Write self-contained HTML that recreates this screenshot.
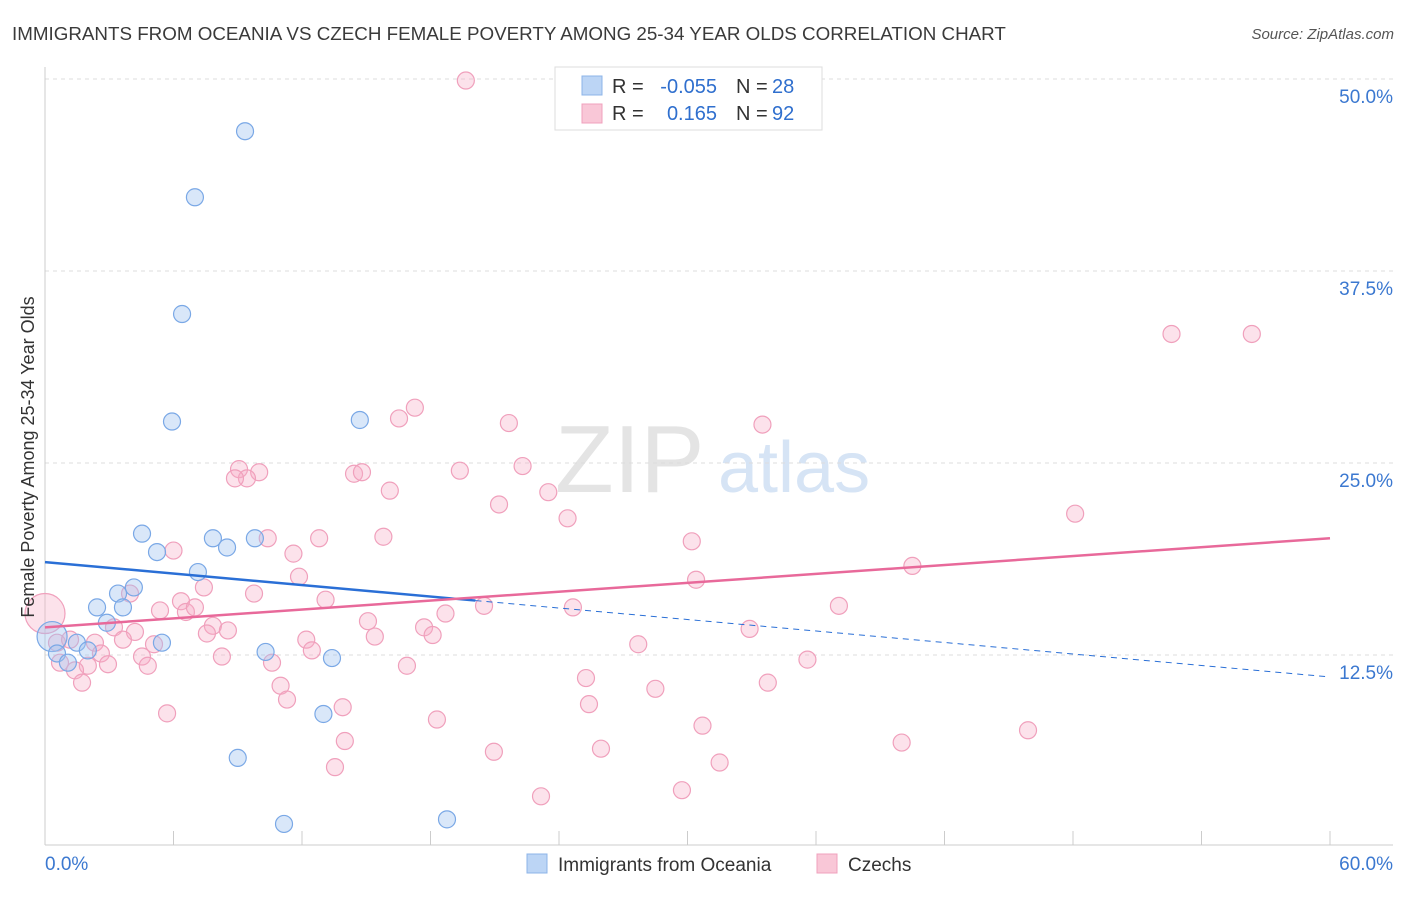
<!DOCTYPE html>
<html><head><meta charset="utf-8"><style>
body{margin:0;background:#fff;font-family:"Liberation Sans",sans-serif}
svg text{font-family:"Liberation Sans",sans-serif}
</style></head><body>
<svg id="chart" width="1406" height="892" viewBox="0 0 1406 892" xmlns="http://www.w3.org/2000/svg">
<text x="12" y="40" font-size="18.8" fill="#3a3a3a">IMMIGRANTS FROM OCEANIA VS CZECH FEMALE POVERTY AMONG 25-34 YEAR OLDS CORRELATION CHART</text>
<text x="1394" y="39" font-size="15" fill="#555" text-anchor="end" font-style="italic">Source: ZipAtlas.com</text>
<text x="555" y="492" font-size="96" fill="#e4e4e4" font-family="Liberation Serif">ZIP</text>
<text x="718" y="492" font-size="72" fill="#d6e4f5">atlas</text>
<g id="grid"></g>
<g id="axes"></g>
<g id="points"></g>
<g id="trends"></g>
<text transform="translate(34,457) rotate(-90)" font-size="18" fill="#333" text-anchor="middle">Female Poverty Among 25-34 Year Olds</text>
<g>
<rect x="555" y="67" width="267" height="63" fill="#fff" stroke="#ddd"/>
<rect x="582" y="76" width="20" height="19" fill="#bcd5f5" stroke="#8db4e8"/>
<rect x="582" y="104" width="20" height="19" fill="#f9c7d7" stroke="#f0a0bc"/>
<text x="612" y="93" font-size="20" fill="#333">R =</text>
<text x="717" y="93" font-size="20" fill="#2f6fce" text-anchor="end">-0.055</text>
<text x="736" y="93" font-size="20" fill="#333">N =</text>
<text x="772" y="93" font-size="20" fill="#2f6fce">28</text>
<text x="612" y="120" font-size="20" fill="#333">R =</text>
<text x="717" y="120" font-size="20" fill="#2f6fce" text-anchor="end">0.165</text>
<text x="736" y="120" font-size="20" fill="#333">N =</text>
<text x="772" y="120" font-size="20" fill="#2f6fce">92</text>
</g>
<g>
<rect x="527" y="854" width="20" height="19" fill="#bcd5f5" stroke="#8db4e8"/>
<text x="558" y="871" font-size="19" fill="#333">Immigrants from Oceania</text>
<rect x="817" y="854" width="20" height="19" fill="#f9c7d7" stroke="#f0a0bc"/>
<text x="848" y="871" font-size="19" fill="#333">Czechs</text>
</g>
</svg>
<script>
const blueX=[9.34,7.0,6.4,5.93,14.7,4.53,5.23,7.84,8.5,9.8,7.14,4.15,3.41,2.43,3.64,2.89,5.46,1.49,0.33,0.56,2.0,1.07,10.3,13.4,13.0,9.0,11.16,18.77];
const blueY=[46.6,42.3,34.7,27.7,27.8,20.4,19.2,20.1,19.5,20.1,17.9,16.9,16.5,15.6,15.6,14.6,13.3,13.3,13.7,12.6,12.8,12.0,12.7,12.3,8.66,5.8,1.5,1.8];
const pinkX=[19.65,52.6,56.35,17.27,16.53,21.66,33.5,9.06,10.0,9.43,8.87,14.43,14.8,19.37,22.3,16.1,23.5,21.2,24.4,48.1,10.4,12.8,15.8,30.2,6.0,11.6,40.5,11.86,30.4,7.42,9.76,3.97,6.35,13.1,20.5,24.65,37.07,5.37,6.58,7.0,18.7,15.08,17.7,7.84,3.22,4.2,8.54,7.56,32.9,15.4,18.1,12.2,3.64,2.33,5.09,27.7,12.46,0,2.61,4.53,8.26,0.7,10.6,4.8,2.94,2.0,1.4,16.9,35.6,25.26,1.73,11.0,28.5,33.75,11.3,25.4,13.9,5.7,18.3,30.7,45.9,14.0,25.96,40.0,20.96,31.5,13.54,29.74,23.16,0.56,1.17];
const pinkY=[49.9,33.4,33.4,28.6,27.9,27.6,27.5,24.6,24.4,24.0,24.0,24.3,24.4,24.5,24.8,23.2,23.1,22.3,21.4,21.7,20.1,20.1,20.2,19.9,19.3,19.1,18.3,17.6,17.4,16.9,16.5,16.5,16.0,16.1,15.7,15.6,15.7,15.4,15.3,15.6,15.2,14.7,14.3,14.4,14.3,14.0,14.1,13.9,14.2,13.7,13.8,13.5,13.5,13.3,13.2,13.2,12.8,15.2,12.6,12.4,12.4,12.0,12.0,11.8,11.9,11.8,11.5,11.8,12.2,11.0,10.7,10.5,10.3,10.7,9.6,9.3,9.1,8.7,8.3,7.9,7.6,6.9,6.4,6.8,6.2,5.5,5.2,3.7,3.3,13.3,13.5];
const yTicks=[12.5,25.0,37.5,50.0];
const yTickLabels=["12.5%","25.0%","37.5%","50.0%"];
const xTickVals=[0,6,12,18,24,30,36,42,48,54,60];
const blueTrend=[18.55,11.07];
const pinkTrend=[14.3,20.1];
const bigBlue=[18], bigPink=[57];
const NS="http://www.w3.org/2000/svg";
const sx=v=>45+v/60*1285, sy=v=>847-v*15.36;
function mk(t,a,p){const e=document.createElementNS(NS,t);for(const k in a)e.setAttribute(k,a[k]);p.appendChild(e);return e;}
const grid=document.getElementById('grid'),axes=document.getElementById('axes'),pts=document.getElementById('points'),tr=document.getElementById('trends');
yTicks.forEach((v,i)=>{
 const l=mk('line',{x1:45,x2:1393,y1:sy(v),y2:sy(v),stroke:'#ddd','stroke-dasharray':'4,4'},grid);
 
 
 const t=mk('text',{x:1393,y:sy(v)+24,'font-size':19,fill:'#3b78d0','text-anchor':'end'},grid);
 t.textContent=yTickLabels[i];
 
 
});
const yl=mk('line',{x1:45,x2:45,y1:67,y2:845,stroke:'#ccc'},axes);


const xl=mk('line',{x1:45,x2:1393,y1:845,y2:845,stroke:'#ccc'},axes);


xTickVals.forEach(v=>{
 const t=mk('line',{x1:sx(v),x2:sx(v),y1:831,y2:845,stroke:'#ccc'},axes);
 
 
});
const x0=mk('text',{x:45,y:870,'font-size':19,fill:'#3b78d0'},axes);x0.textContent='0.0%';


const x1=mk('text',{x:1393,y:870,'font-size':19,fill:'#3b78d0','text-anchor':'end'},axes);x1.textContent='60.0%';


pinkX.forEach((x,i)=>{
 const c=mk('circle',{cx:sx(x),cy:sy(pinkY[i]),r:bigPink.includes(i)?20:8.5,fill:'rgba(246,172,197,0.35)',stroke:'#f0a0bc','stroke-width':1.2},pts);
 
 
});
blueX.forEach((x,i)=>{
 const c=mk('circle',{cx:sx(x),cy:sy(blueY[i]),r:bigBlue.includes(i)?15:8.5,fill:'rgba(160,196,240,0.4)',stroke:'#7aa8e6','stroke-width':1.2},pts);
 
 
});
const bAt=v=>blueTrend[0]+(blueTrend[1]-blueTrend[0])*v/60;
const b1=mk('line',{x1:sx(0),y1:sy(bAt(0)),x2:sx(20.1),y2:sy(bAt(20.1)),stroke:'#2a6fd6','stroke-width':2.5},tr);


const b2=mk('line',{x1:sx(20.1),y1:sy(bAt(20.1)),x2:sx(60),y2:sy(bAt(60)),stroke:'#2a6fd6','stroke-width':1,'stroke-dasharray':'6,5'},tr);


const p1=mk('line',{x1:sx(0),y1:sy(pinkTrend[0]),x2:sx(60),y2:sy(pinkTrend[1]),stroke:'#e8699a','stroke-width':2.5},tr);


</script>
</body></html>
